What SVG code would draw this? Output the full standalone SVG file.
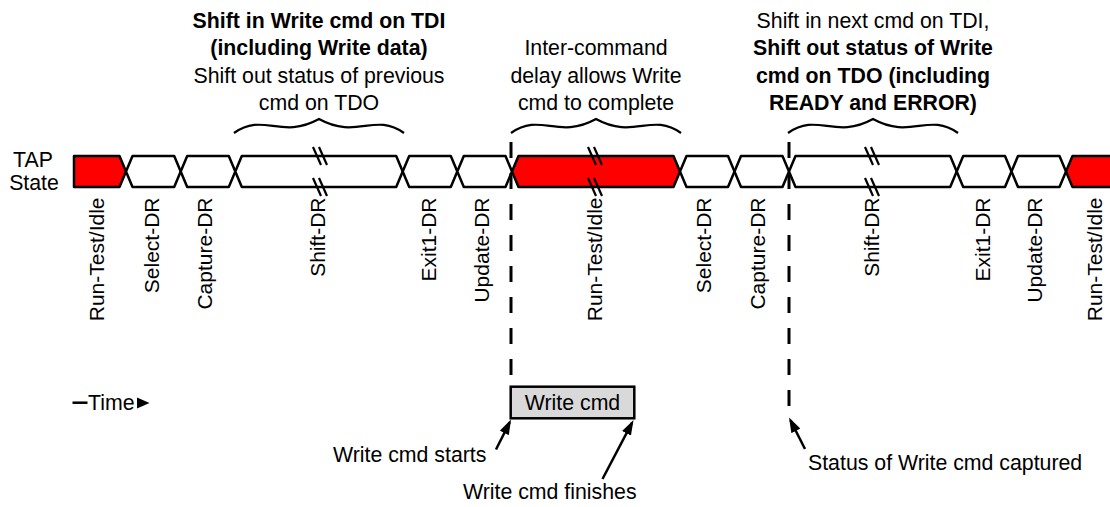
<svg xmlns="http://www.w3.org/2000/svg" width="1110" height="507" viewBox="0 0 1110 507">
<style>
text{font-family:"Liberation Sans",Arial,sans-serif;font-size:21.3px;fill:#000}
.b{font-weight:bold}
.lbl{font-size:21px}
.seg{fill:#fff;stroke:#000;stroke-width:2.5;stroke-linejoin:round}
.red{fill:#ff0000}
.brk{stroke:#000;stroke-width:2.2;fill:none}
.brace{fill:none;stroke:#000;stroke-width:2.2}
.dash{stroke:#000;stroke-width:3;stroke-dasharray:16 15;fill:none}
.arr{stroke:#000;stroke-width:2.5;fill:none;marker-end:url(#ah)}
</style>
<defs>
<marker id="ah" viewBox="0 0 15 10" refX="12" refY="5" markerWidth="15" markerHeight="10" markerUnits="userSpaceOnUse" orient="auto"><path d="M0,0 L15,5 L0,10 z" fill="#000"/></marker>
</defs>
<rect width="1110" height="507" fill="#fff"/>

<g id="annotations">
<g id="note-shift-in" text-anchor="middle">
<text x="319" y="28" class="b">Shift in Write cmd on TDI</text>
<text x="319" y="55" class="b">(including Write data)</text>
<text x="319" y="83">Shift out status of previous</text>
<text x="319" y="110">cmd on TDO</text>
</g>
<g id="note-delay" text-anchor="middle">
<text x="596" y="55">Inter-command</text>
<text x="596" y="83">delay allows Write</text>
<text x="596" y="110">cmd to complete</text>
</g>
<g id="note-shift-out" text-anchor="middle">
<text x="873" y="28">Shift in next cmd on TDI,</text>
<text x="873" y="55" class="b">Shift out status of Write</text>
<text x="873" y="83" class="b">cmd on TDO (including</text>
<text x="873" y="110" class="b">READY and ERROR)</text>
</g>
<g id="braces">
<path class="brace" d="M234,133 C263.75,112 280.75,140 319,119 C357.25,140 374.25,112 404,133"/>
<path class="brace" d="M511,133 C540.75,112 557.75,140 596,119 C634.25,140 651.25,112 681,133"/>
<path class="brace" d="M788,133 C817.75,112 834.75,140 873,119 C911.25,140 928.25,112 958,133"/>
</g>
<g id="tap-state" text-anchor="middle">
<text x="33" y="166.5">TAP</text>
<text x="34" y="189.5">State</text>
</g>
</g>

<g id="states">
<g id="s1-run-test-idle"><polygon class="seg red" points="74,156 119.5,156 126,171.5 119.5,187 74,187"/><text class="lbl" text-anchor="end" transform="translate(104,197.5) rotate(-90)">Run-Test/Idle</text></g>
<g id="s2-select-dr"><polygon class="seg" points="126,171.5 132.5,156 174.2,156 180.7,171.5 174.2,187 132.5,187"/><text class="lbl" text-anchor="end" transform="translate(159,197.5) rotate(-90)">Select-DR</text></g>
<g id="s3-capture-dr"><polygon class="seg" points="180.7,171.5 187.2,156 228.8,156 235.3,171.5 228.8,187 187.2,187"/><text class="lbl" text-anchor="end" transform="translate(212,197.5) rotate(-90)">Capture-DR</text></g>
<g id="s4-shift-dr"><polygon class="seg" points="235.3,171.5 241.8,156 396.2,156 402.7,171.5 396.2,187 241.8,187"/><text class="lbl" text-anchor="end" transform="translate(325,197.5) rotate(-90)">Shift-DR</text>
<path class="brk" d="M313,147 L321,165 M319,147 L327,165 M313,178 L321,196 M319,178 L327,196"/></g>
<g id="s5-exit1-dr"><polygon class="seg" points="402.7,171.5 409.2,156 450.8,156 457.3,171.5 450.8,187 409.2,187"/><text class="lbl" text-anchor="end" transform="translate(435.5,197.5) rotate(-90)">Exit1-DR</text></g>
<g id="s6-update-dr"><polygon class="seg" points="457.3,171.5 463.8,156 505.5,156 512,171.5 505.5,187 463.8,187"/><text class="lbl" text-anchor="end" transform="translate(489,197.5) rotate(-90)">Update-DR</text></g>
<g id="s7-run-test-idle"><polygon class="seg red" points="512,171.5 518.5,156 673.5,156 680,171.5 673.5,187 518.5,187"/><text class="lbl" text-anchor="end" transform="translate(601.5,197.5) rotate(-90)">Run-Test/Idle</text>
<path class="brk" d="M588,147 L596,165 M594,147 L602,165 M588,178 L596,196 M594,178 L602,196"/></g>
<g id="s8-select-dr"><polygon class="seg" points="680,171.5 686.5,156 728,156 734.5,171.5 728,187 686.5,187"/><text class="lbl" text-anchor="end" transform="translate(711,197.5) rotate(-90)">Select-DR</text></g>
<g id="s9-capture-dr"><polygon class="seg" points="734.5,171.5 741,156 782.5,156 789,171.5 782.5,187 741,187"/><text class="lbl" text-anchor="end" transform="translate(765,197.5) rotate(-90)">Capture-DR</text></g>
<g id="s10-shift-dr"><polygon class="seg" points="789,171.5 795.5,156 950.2,156 956.7,171.5 950.2,187 795.5,187"/><text class="lbl" text-anchor="end" transform="translate(878.5,197.5) rotate(-90)">Shift-DR</text>
<path class="brk" d="M865,147 L873,165 M871,147 L879,165 M865,178 L873,196 M871,178 L879,196"/></g>
<g id="s11-exit1-dr"><polygon class="seg" points="956.7,171.5 963.2,156 1005,156 1011.5,171.5 1005,187 963.2,187"/><text class="lbl" text-anchor="end" transform="translate(989.5,197.5) rotate(-90)">Exit1-DR</text></g>
<g id="s12-update-dr"><polygon class="seg" points="1011.5,171.5 1018,156 1059.5,156 1066,171.5 1059.5,187 1018,187"/><text class="lbl" text-anchor="end" transform="translate(1042,197.5) rotate(-90)">Update-DR</text></g>
<g id="s13-run-test-idle"><polygon class="seg red" points="1066,171.5 1072.5,156 1125,156 1125,187 1072.5,187"/><text class="lbl" text-anchor="end" transform="translate(1102,197.5) rotate(-90)">Run-Test/Idle</text></g>
</g>

<g id="time-axis">
<line x1="72.5" y1="402.7" x2="87.5" y2="402.7" stroke="#000" stroke-width="2.5"/>
<text x="88" y="410">Time</text>
<polygon points="137,397.5 149.5,403 137,408.5" fill="#000"/>
</g>

<g id="write-cmd">
<rect x="510.7" y="386.7" width="123.6" height="31.6" fill="#d9d9d9" stroke="#000" stroke-width="2.5"/>
<text x="572.5" y="410" text-anchor="middle">Write cmd</text>
</g>

<g id="callouts">
<text x="333" y="462">Write cmd starts</text>
<text x="463" y="498.5">Write cmd finishes</text>
<text x="808" y="470">Status of Write cmd captured</text>
</g>

<g id="connectors">
<line class="dash" x1="511" y1="142" x2="511" y2="375"/>
<line class="dash" x1="789" y1="142" x2="789" y2="406"/>
<line class="arr" x1="496" y1="449.5" x2="509.7" y2="422.2"/>
<line class="arr" x1="602.5" y1="479" x2="632.1" y2="422.7"/>
<line class="arr" x1="805" y1="449" x2="790.4" y2="420.2"/>
</g>
</svg>
